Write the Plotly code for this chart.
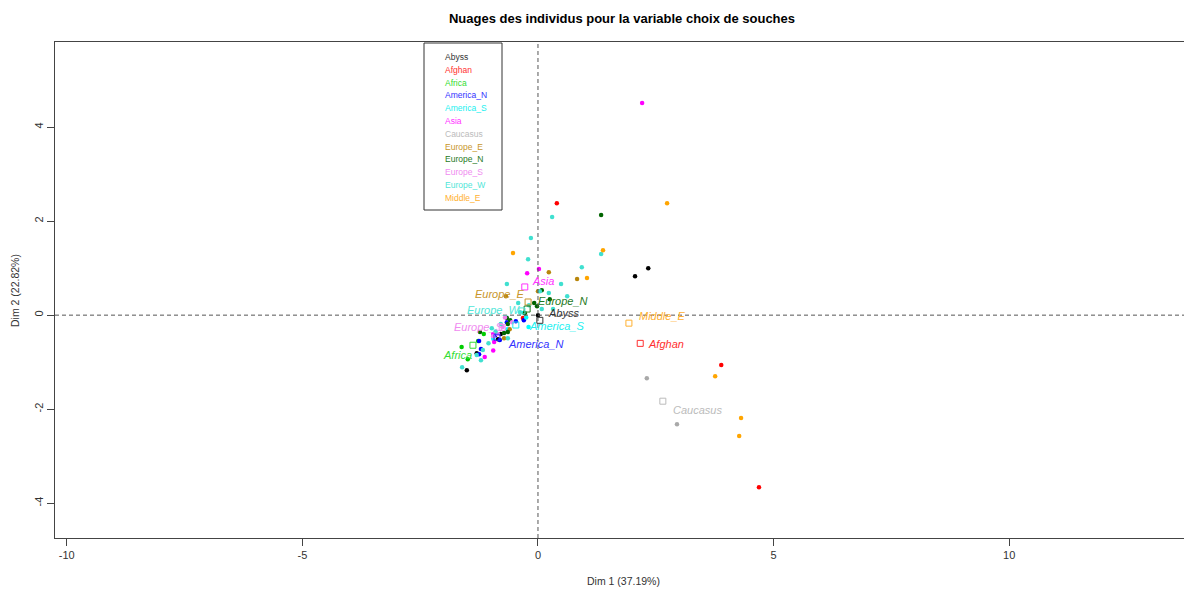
import plotly.graph_objects as go

categories = ["Abyss", "Afghan", "Africa", "America_N", "America_S", "Asia",
              "Caucasus", "Europe_E", "Europe_N", "Europe_S", "Europe_W", "Middle_E"]
colors = ["#000000", "#FF0000", "#00CD00", "#0000FF", "#00FFFF", "#FF00FF",
          "#A9A9A9", "#B8860B", "#006400", "#EE82EE", "#40E0D0", "#FFA500"]
label_colors = ["#333333", "#FF3030", "#33DD33", "#3333FF", "#22F0F0", "#FF33FF",
                "#BBBBBB", "#C8962B", "#1E7A1E", "#F08CF0", "#50E6D8", "#FFB030"]

# individuals (Dim 1, Dim 2) per category
ind_x = {
    "Abyss": [2.34, 2.06, 0.00, -0.85, -0.79, -1.30, -1.51],
    "Afghan": [0.40, 3.89, 4.69, -0.32],
    "Africa": [-1.49, -1.27, -1.15, -1.62],
    "America_N": [-0.47, -0.91, -1.25, -1.21, -1.25, -0.66, -0.81, -0.30],
    "America_S": [-0.30, -0.95, -0.20, -0.65, -0.25],
    "Asia": [2.21, -0.23, 0.02, -0.93, -1.13, -0.95, -0.95],
    "Caucasus": [2.31, 2.95],
    "Europe_E": [0.23, 0.83, 0.00, -0.68, -0.72, -0.60],
    "Europe_N": [1.34, 0.08, -0.02, -0.66, -0.59, -0.64, -1.23, -0.72, -0.64, -0.08, -0.28, 0.25],
    "Europe_S": [-0.55, -0.95, -0.70, -0.85, -0.75],
    "Europe_W": [0.30, 1.34, -0.15, -0.21, -0.66, 0.49, 0.93, 0.23, -0.42, -0.19, 0.62, -0.38,
                 -0.79, -0.98, -0.64, -1.17, -1.21, -1.61, 0.04, 0.32, 0.08, -1.05, -1.30, -0.90],
    "Middle_E": [2.74, 1.38, 3.76, 4.31, 4.27, -0.53, 1.04],
}
ind_y = {
    "Abyss": [1.00, 0.83, 0.00, -0.51, -0.40, -0.81, -1.17],
    "Afghan": [2.38, -1.06, -3.66, -0.06],
    "Africa": [-0.94, -0.55, -0.40, -0.68],
    "America_N": [-0.13, -0.43, -0.55, -0.72, -0.83, -0.15, -0.53, -0.11],
    "America_S": [0.05, -0.50, -0.25, -0.30, -0.05],
    "Asia": [4.51, 0.89, 0.98, -0.57, -0.89, -0.40, -0.75],
    "Caucasus": [-1.34, -2.32],
    "Europe_E": [0.91, 0.77, 0.51, 0.40, -0.49, -0.30],
    "Europe_N": [2.13, 0.53, 0.19, -0.06, -0.11, -0.19, -0.36, -0.38, -0.36, 0.26, 0.04, 0.34],
    "Europe_S": [-0.15, -0.45, -0.05, -0.40, -0.25],
    "Europe_W": [2.09, 1.30, 1.64, 1.19, 0.66, 0.66, 1.02, 0.47, 0.26, 0.21, 0.40, 0.06,
                 -0.19, -0.28, -0.49, -0.74, -0.96, -1.11, 0.51, 0.13, 0.13, -0.60, -0.85, -0.35],
    "Middle_E": [2.38, 1.38, -1.30, -2.19, -2.57, 1.32, 0.79],
}

# category centres
center_x = [0.04, 2.17, -1.38, -0.87, -0.47, -0.28, 2.65, -0.21, -0.23, -0.76, -0.34, 1.93]
center_y = [-0.11, -0.60, -0.64, -0.47, -0.21, 0.60, -1.83, 0.28, 0.13, -0.26, 0.09, -0.17]

x_ticks = [-10, -5, 0, 5, 10]
y_ticks = [-4, -2, 0, 2, 4]

# label offsets (px) from the centre square
label_dx = [6, 6, -32, 9, 11, 5, 8, -55, 9, -50, -57, 8]
label_dy = [7, -1, -10, -7, -1, 6, -9, 8, 8, 0, 1, 7]

OFF = 8  # page body margin
W, H = 1192 - OFF, 592 - OFF
L, R, T, B = 55 - OFF, 0, 42 - OFF, 54
PW, PH = W - L - R, H - T - B

def px_x(px):
    return (px - OFF - L) / PW

def px_y(py):
    return (H - B - (py - OFF)) / PH

FONT = "Liberation Sans, Arial"

fig = go.Figure()

for cat, col in zip(categories, colors):
    fig.add_trace(go.Scatter(
        x=ind_x[cat], y=ind_y[cat], mode="markers",
        marker=dict(color=col, size=4.5, line=dict(width=0)),
        name=cat, showlegend=False, hoverinfo="skip"))

fig.add_trace(go.Scatter(
    x=center_x, y=center_y, mode="markers",
    marker=dict(symbol="square-open", size=6, color=label_colors, line=dict(width=1)),
    showlegend=False, hoverinfo="skip"))

annotations = []
for i, cat in enumerate(categories):
    annotations.append(dict(
        x=center_x[i], y=center_y[i], xref="x", yref="y", text=cat,
        showarrow=False, xanchor="left", yanchor="middle",
        xshift=label_dx[i], yshift=label_dy[i],
        font=dict(family=FONT, size=11, color=label_colors[i], style="italic")))
    ypx = 57 + 12.8 * i
    annotations.append(dict(
        x=px_x(443), y=px_y(ypx),
        xref="paper", yref="paper", text=cat, showarrow=False,
        xanchor="left", yanchor="middle",
        font=dict(family=FONT, size=8.5, color=label_colors[i])))

annotations.append(dict(x=px_x(623), y=px_y(581), xref="paper", yref="paper",
                        text="Dim 1 (37.19%)", showarrow=False, xanchor="center", yanchor="middle",
                        font=dict(family=FONT, size=10.5, color="#333333")))
annotations.append(dict(x=px_x(15), y=0.5, xref="paper", yref="paper",
                        text="Dim 2 (22.82%)", showarrow=False, textangle=-90,
                        xanchor="center", yanchor="middle",
                        font=dict(family=FONT, size=10.5, color="#333333")))

shapes = [
    dict(type="line", xref="x", yref="paper", x0=0, x1=0, y0=0, y1=1,
         line=dict(color="#555555", width=1, dash="4px,3px")),
    dict(type="line", xref="paper", yref="y", x0=0, x1=1, y0=0, y1=0,
         line=dict(color="#555555", width=1, dash="4px,3px")),
    dict(type="rect", xref="paper", yref="paper",
         x0=px_x(424), x1=px_x(502), y0=px_y(210), y1=px_y(43),
         line=dict(color="#333333", width=1), fillcolor="rgba(0,0,0,0)"),
]

axis_common = dict(showgrid=False, zeroline=False, showline=True, mirror=True,
                   linecolor="#444444", linewidth=1, ticks="outside", ticklen=7,
                   tickcolor="#444444", tickfont=dict(family=FONT, size=11, color="#333333"))

fig.update_layout(
    width=W, height=H,
    margin=dict(l=L, r=R, t=T, b=B, pad=0),
    paper_bgcolor="white", plot_bgcolor="white",
    title=dict(text="<b>Nuages des individus pour la variable choix de souches</b>",
               x=(622 - OFF) / W, xanchor="center", y=1 - (18 - OFF) / H, yanchor="middle",
               font=dict(family=FONT, size=13, color="#000000")),
    xaxis=dict(range=[-10.25, 13.88], tickvals=x_ticks, ticktext=[str(v) for v in x_ticks], **axis_common),
    yaxis=dict(range=[-4.74, 5.81], tickvals=y_ticks, ticktext=[str(v) for v in y_ticks],
               tickangle=-90, **axis_common),
    annotations=annotations, shapes=shapes, showlegend=False,
)

fig.write_html("out.html")
